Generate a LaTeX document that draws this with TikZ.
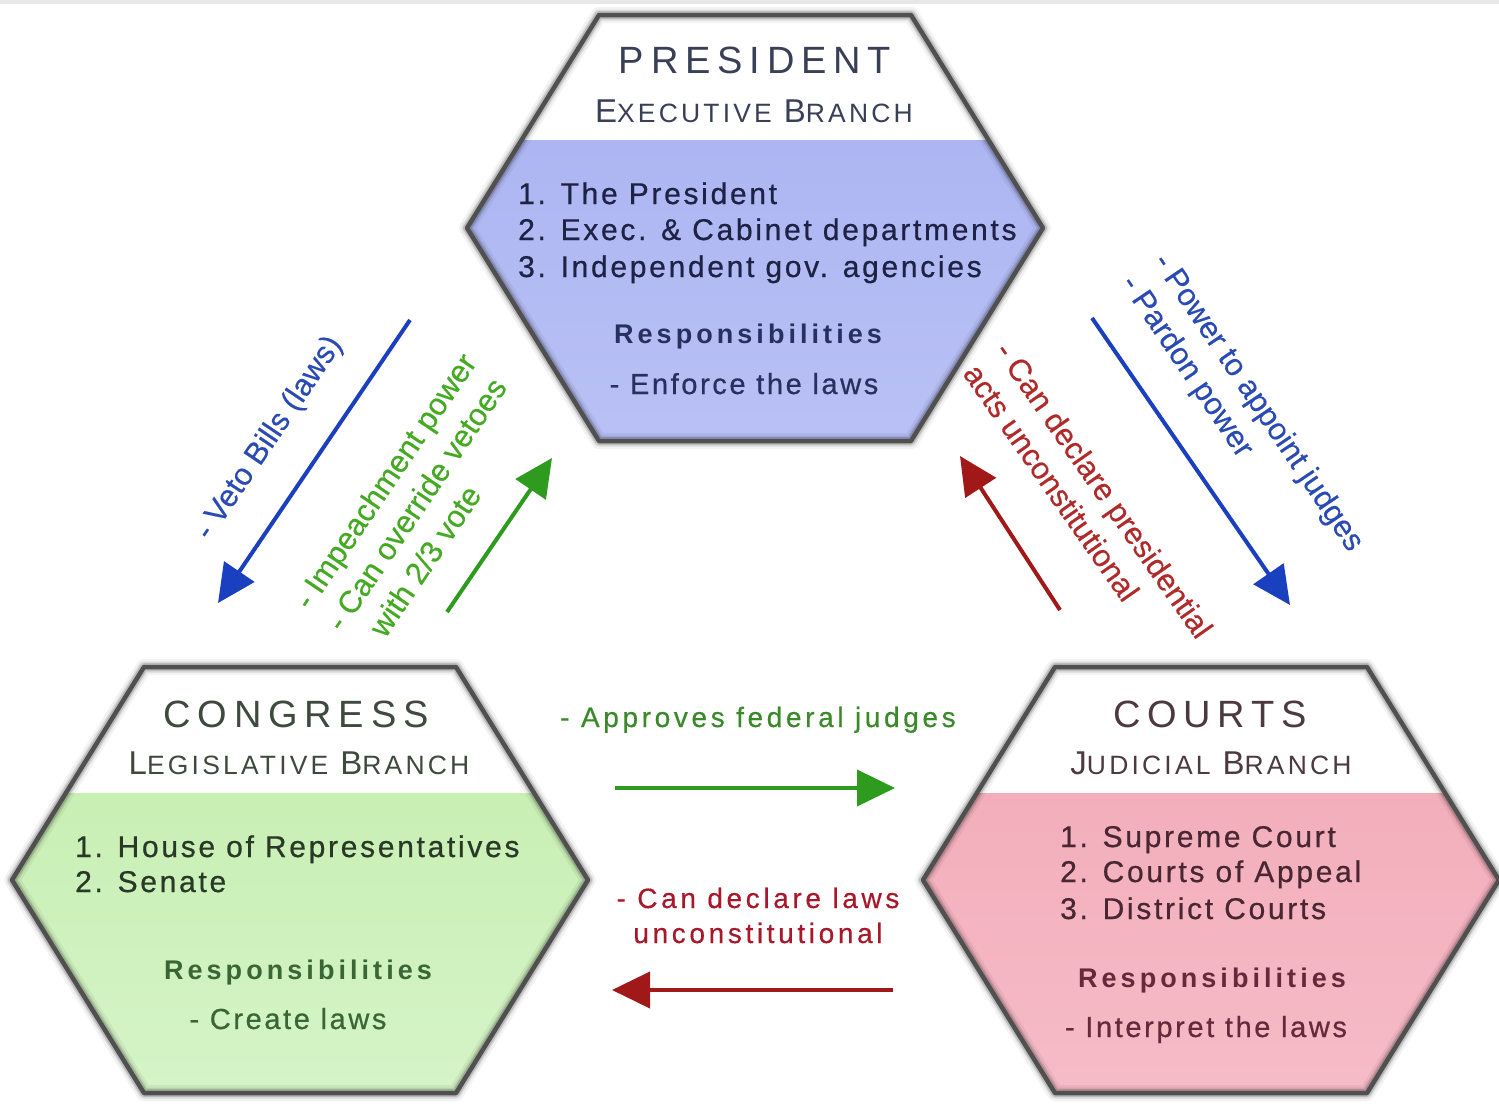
\documentclass[tikz,border=0pt]{standalone}
\usepackage{fontspec}
\setmainfont{Liberation Sans}
\newfontfamily\titlefont[LetterSpace=18]{Liberation Sans}
\newfontfamily\scfont[LetterSpace=12]{Liberation Sans}
\newfontfamily\bodyfont[LetterSpace=9,FakeBold=0.6]{Liberation Sans}
\newfontfamily\respfont[LetterSpace=15]{Liberation Sans}
\newfontfamily\lblfont[LetterSpace=13,FakeBold=0.5]{Liberation Sans}
\newfontfamily\diagfont[FakeBold=0.3]{Liberation Sans}
\usetikzlibrary{arrows.meta}

\definecolor{hexedge}{HTML}{505050}
\definecolor{presTitle}{HTML}{3A3F58}
\definecolor{presText}{HTML}{1E2244}
\definecolor{presResp}{HTML}{283060}
\definecolor{presA}{HTML}{ADB6F2}
\definecolor{presB}{HTML}{CDD3F9}
\definecolor{presC}{HTML}{B9C1F5}
\definecolor{congTitle}{HTML}{3E4A3E}
\definecolor{congText}{HTML}{2A3828}
\definecolor{congResp}{HTML}{3A6636}
\definecolor{congA}{HTML}{C8EFB4}
\definecolor{congB}{HTML}{E6FADB}
\definecolor{congC}{HTML}{D6F4C8}
\definecolor{courTitle}{HTML}{4C3A40}
\definecolor{courText}{HTML}{482632}
\definecolor{courResp}{HTML}{66283A}
\definecolor{courA}{HTML}{F3AEBB}
\definecolor{courB}{HTML}{FAD2DA}
\definecolor{courC}{HTML}{F5BCC7}
\definecolor{arBlue}{HTML}{1A3FBF}
\definecolor{arGreen}{HTML}{2E9A1E}
\definecolor{arRed}{HTML}{A01818}
\definecolor{lbBlue}{HTML}{2A4AB4}
\definecolor{lbGreen}{HTML}{44AA22}
\definecolor{lbRed}{HTML}{B02A2A}
\definecolor{lbGreenH}{HTML}{3A8A2A}
\definecolor{lbRedH}{HTML}{A8182A}

\newcommand\hexpath[2]{(#1-156,#2-213) -- (#1+156,#2-213) -- (#1+288,#2) -- (#1+156,#2+213) -- (#1-156,#2+213) -- (#1-288,#2) -- cycle}
% #1 cx  #2 cy  #3 divider y  #4 top colour  #5 middle colour  #6 bottom colour
\newcommand\hexagonbox[6]{%
  \begin{scope}
    \clip \hexpath{#1}{#2};
    \fill[white] (#1-300,#2-220) rectangle (#1+300,#2+220);
    \shade[top color=#4, middle color=#5, bottom color=#6] (#1-300,#3) rectangle (#1+300,#2+220);
  \end{scope}
  \draw[black, opacity=0.05, line width=16pt, line join=round] \hexpath{#1}{#2};
  \draw[black, opacity=0.09, line width=11pt, line join=round] \hexpath{#1}{#2};
  \draw[black, opacity=0.15, line width=8pt, line join=round] \hexpath{#1}{#2};
  \draw[hexedge, line width=4.5pt, line join=round] \hexpath{#1}{#2};
}
\newcommand\smallcapsword[2]{{\fontsize{33}{36}\selectfont #1}{\fontsize{26.5}{30}\selectfont #2}}

\tikzset{
  arr/.style={line width=4pt, -{Triangle[length=38pt,width=36pt]}},
  title/.style={anchor=base, inner sep=0, font=\titlefont\fontsize{38}{44}\selectfont},
  branch/.style={anchor=base, inner sep=0, font=\scfont},
  item/.style={anchor=base west, inner sep=0, font=\bodyfont\fontsize{30}{36}\selectfont},
  resp/.style={anchor=base, inner sep=0, font=\respfont\bfseries\fontsize{27}{32}\selectfont},
  duty/.style={anchor=base, inner sep=0, font=\bodyfont\fontsize{29}{34}\selectfont},
  diag/.style={anchor=west, inner sep=0, align=left, font=\diagfont\fontsize{31}{39}\selectfont},
  horiz/.style={anchor=base, inner sep=0, font=\lblfont\fontsize{28}{35}\selectfont}
}

\begin{document}
\begin{tikzpicture}[x=1pt,y=-1pt]
\useasboundingbox (0,0) rectangle (1499,1103);
\fill[white] (0,0) rectangle (1499,1103);
\fill[gray!18] (0,0) rectangle (1499,4);

% ---------- hexagons ----------
\hexagonbox{755}{228}{140}{presA}{presB}{presC}
\hexagonbox{300}{880}{793}{congA}{congB}{congC}
\hexagonbox{1211}{880}{793}{courA}{courB}{courC}

% ---------- President ----------
\node[title, text=presTitle] (ptitle) at (755,73) {PRESIDENT};
\node[branch, text=presTitle] (pbranch) at (754,122) {\smallcapsword{E}{XECUTIVE}\hspace{12pt}\smallcapsword{B}{RANCH}};
\node[item, text=presText] (p1) at (518,204) {1. The President};
\node[item, text=presText] (p2) at (518,240) {2. Exec. \& Cabinet departments};
\node[item, text=presText] (p3) at (518,277) {3. Independent gov. agencies};
\node[resp, text=presResp] (presp) at (748,343) {Responsibilities};
\node[duty, text=presResp] (pduty) at (744,394) {- Enforce the laws};

% ---------- Congress ----------
\node[title, text=congTitle] (ctitle) at (296,727) {CONGRESS};
\node[branch, text=congTitle] (cbranch) at (299,774) {\smallcapsword{L}{EGISLATIVE}\hspace{12pt}\smallcapsword{B}{RANCH}};
\node[item, text=congText] (c1) at (75,857) {1. House of Representatives};
\node[item, text=congText] (c2) at (75,892) {2. Senate};
\node[resp, text=congResp] (cresp) at (298,979) {Responsibilities};
\node[duty, text=congResp] (cduty) at (288,1029) {- Create laws};

% ---------- Courts ----------
\node[title, text=courTitle] (jtitle) at (1210,727) {COURTS};
\node[branch, text=courTitle] (jbranch) at (1211,774) {\smallcapsword{J}{UDICIAL}\hspace{12pt}\smallcapsword{B}{RANCH}};
\node[item, text=courText] (j1) at (1060,847) {1. Supreme Court};
\node[item, text=courText] (j2) at (1060,882) {2. Courts of Appeal};
\node[item, text=courText] (j3) at (1060,919) {3. District Courts};
\node[resp, text=courResp] (jresp) at (1212,987) {Responsibilities};
\node[duty, text=courResp] (jduty) at (1206,1037) {- Interpret the laws};

% ---------- arrow end points ----------
\coordinate (vetoS) at (410,320);   \coordinate (vetoE) at (218,603);
\coordinate (impS)  at (447,612);   \coordinate (impE)  at (552,458);
\coordinate (jrevS) at (1060,610);  \coordinate (jrevE) at (960,456);
\coordinate (apptS) at (1092,318);  \coordinate (apptE) at (1290,605);
\coordinate (apprS) at (615,788);   \coordinate (apprE) at (895,788);
\coordinate (lawsS) at (893,990);   \coordinate (lawsE) at (612,990);

\draw[arr, arBlue]  (vetoS) -- (vetoE);
\draw[arr, arGreen] (impS)  -- (impE);
\draw[arr, arRed]   (jrevS) -- (jrevE);
\draw[arr, arBlue]  (apptS) -- (apptE);
\draw[arr, arGreen] (apprS) -- (apprE);
\draw[arr, arRed]   (lawsS) -- (lawsE);

% ---------- arrow labels ----------
\node[diag, rotate=56, text=lbBlue] (lveto) at (203,537) {- Veto Bills (laws)};
\node[diag, rotate=56, text=lbGreen] (limp) at (333,627) {- Impeachment power\\- Can override vetoes\\\phantom{- }with 2/3 vote};
\node[diag, rotate=-55, text=lbRed] (ljrev) at (987,356) {- Can declare presidential\\acts unconstitutional};
\node[diag, rotate=-56, text=lbBlue] (lappt) at (1143,268) {- Power to appoint judges\\- Pardon power};
\node[horiz, text=lbGreenH] (lappr) at (758,727) {- Approves federal judges};
\node[horiz, text=lbRedH] (llaws1) at (758,908) {- Can declare laws};
\node[horiz, text=lbRedH] (llaws2) at (758,943) {unconstitutional};
\end{tikzpicture}
\end{document}
